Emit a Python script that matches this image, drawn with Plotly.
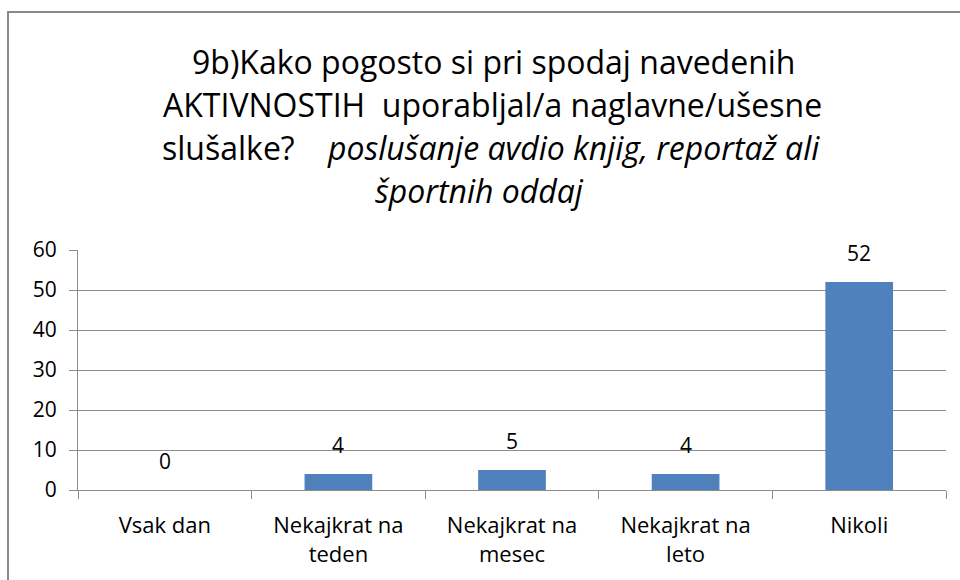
import plotly.graph_objects as go

categories = ["Vsak dan", "Nekajkrat na<br>teden", "Nekajkrat na<br>mesec", "Nekajkrat na<br>leto", "Nikoli"]
values = [0, 4, 5, 4, 52]
y_ticks = [0, 10, 20, 30, 40, 50, 60]

title_lines = [
    "9b)Kako pogosto si pri spodaj navedenih",
    "AKTIVNOSTIH  uporabljal/a naglavne/ušesne",
    "slušalke?    <i>poslušanje avdio knjig, reportaž ali</i>",
    "<i>športnih oddaj</i>",
]

FONT = "Open Sans"
W, H = 960, 580
L, R, T, B = 78, 14, 250, 90
pw, ph = W - L - R, H - T - B

def px_x(x):
    return (x - L) / pw

def px_y(y):
    return (H - B - y) / ph

fig = go.Figure()
fig.add_trace(go.Bar(
    x=categories, y=values,
    marker=dict(color="#4F81BD", line=dict(width=0)),
    hoverinfo="skip",
))

annotations = []
for c, v in zip(categories, values):
    annotations.append(dict(
        x=c, y=v, xref="x", yref="y", text=str(v), showarrow=False,
        yanchor="bottom", yshift=13, font=dict(family=FONT, size=21, color="#000000"),
    ))

line_centers = [62, 104, 147, 190]
line_x = [493, 492, 491, 479]
for txt, yc, xc in zip(title_lines, line_centers, line_x):
    annotations.append(dict(
        x=px_x(xc), y=px_y(yc), xref="paper", yref="paper", text=txt,
        showarrow=False, xanchor="center", yanchor="middle",
        font=dict(family=FONT, size=32, color="#000000"),
    ))

fig.update_layout(
    width=W, height=H,
    margin=dict(l=L, r=R, t=T, b=B, pad=0),
    paper_bgcolor="white", plot_bgcolor="white",
    showlegend=False,
    bargap=0.61,
    annotations=annotations,
    shapes=[dict(
        type="rect", xref="paper", yref="paper",
        x0=px_x(8), y0=px_y(600), x1=px_x(1000), y1=px_y(12),
        line=dict(color="#8A8A8A", width=2), layer="below",
    )],
    font=dict(family=FONT, color="#000000"),
)
fig.update_yaxes(
    range=[0, 60], tickvals=y_ticks, showgrid=True, gridcolor="#8C8C8C", gridwidth=1,
    showline=True, linecolor="#8C8C8C", linewidth=1,
    ticks="outside", ticklen=8, tickcolor="#8C8C8C",
    tickfont=dict(family=FONT, size=21, color="#000000"), zeroline=False,
    ticklabelstandoff=8,
)
fig.update_xaxes(
    showline=True, linecolor="#8C8C8C", linewidth=1,
    ticks="outside", ticklen=8, tickcolor="#8C8C8C", tickson="boundaries",
    tickfont=dict(family=FONT, size=22, color="#000000"), showgrid=False,
    ticklabelstandoff=16,
)

fig.write_html(
    "out.html",
    config={"displayModeBar": False},
    post_script="document.body.style.margin='0';document.body.style.overflow='hidden';",
)
